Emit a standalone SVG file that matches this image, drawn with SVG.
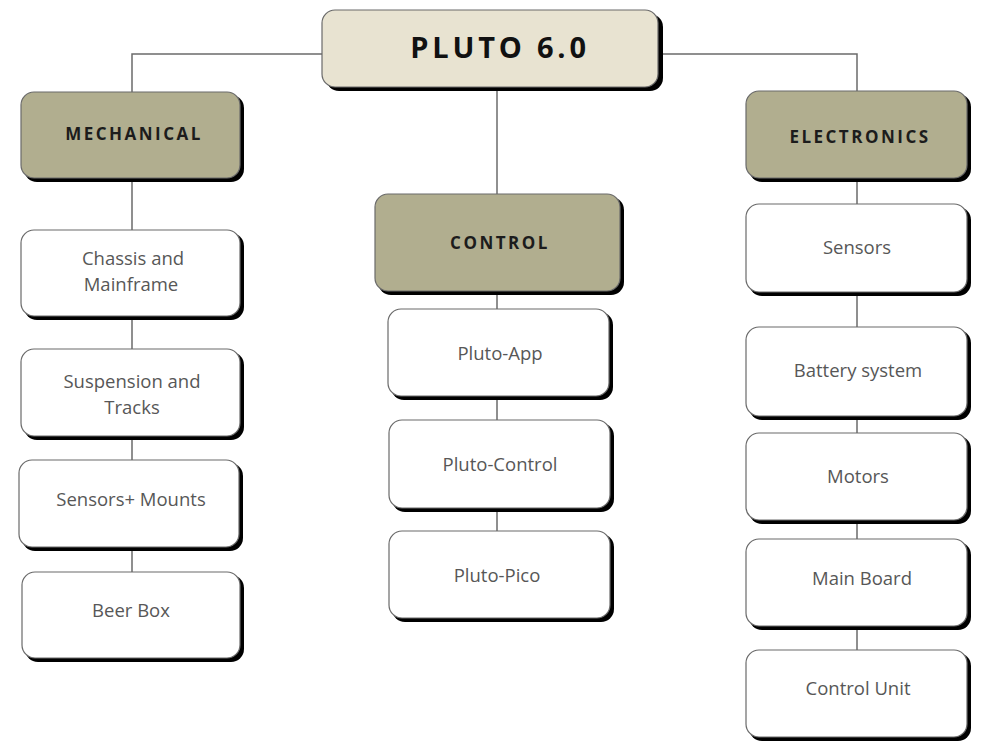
<svg xmlns="http://www.w3.org/2000/svg" width="1007" height="744" viewBox="0 0 1007 744">
<style>
.shadow{fill:#000}
.box{stroke:#6a6a6a;stroke-width:1.2}
.root{fill:#E8E3D1}
.cat{fill:#B1AE8F}
.leaf{fill:#FFFFFF}
.t{font-family:"Open Sans","Liberation Sans",sans-serif;font-size:18.5px;fill:#575757;text-anchor:middle}
.h{font-family:"Open Sans","Liberation Sans",sans-serif;font-size:17px;font-weight:bold;fill:#1c1c1c;text-anchor:middle;letter-spacing:2.5px}
.rt{font-family:"Open Sans","Liberation Sans",sans-serif;font-size:29px;font-weight:bold;fill:#111;text-anchor:middle;letter-spacing:3.8px}
.c{fill:none;stroke:#6b6b6b;stroke-width:1.5}
</style>
<rect width="1007" height="744" fill="#fff"/>
<g id="connectors">
<path class="c" d="M322 54 H132 V92"/>
<path class="c" d="M658 54 H857 V91"/>
<path class="c" d="M497 87 V194"/>
<path class="c" d="M132 178 V230 M132 316 V349 M132 436 V460 M132 547 V572"/>
<path class="c" d="M497 291 V309 M497 396 V420 M497 508 V531"/>
<path class="c" d="M857 178 V204 M857 292 V327 M857 416 V433 M857 520 V539 M857 626 V650"/>
</g>
<g id="root">
<rect class="shadow" x="326" y="14" width="337" height="77" rx="13"/>
<rect class="box root" x="322" y="10" width="336" height="77" rx="13"/>
<text class="rt" x="500" y="58">PLUTO 6.0</text>
</g>
<g id="mechanical">
<rect class="shadow" x="24" y="95" width="220" height="87" rx="13"/>
<rect class="box cat" x="21" y="92" width="219" height="86" rx="13"/>
<text class="h" x="134" y="140">MECHANICAL</text>
</g>
<g id="chassis">
<rect class="shadow" x="24" y="233" width="220" height="87" rx="13"/>
<rect class="box leaf" x="21" y="230" width="219" height="86" rx="13"/>
<text class="t" x="133" y="265">Chassis and</text>
<text class="t" x="131" y="291">Mainframe</text>
</g>
<g id="suspension">
<rect class="shadow" x="24" y="352" width="220" height="88" rx="13"/>
<rect class="box leaf" x="21" y="349" width="219" height="87" rx="13"/>
<text class="t" x="132" y="388">Suspension and</text>
<text class="t" x="132" y="414">Tracks</text>
</g>
<g id="sensors-mounts">
<rect class="shadow" x="22" y="463" width="221" height="88" rx="13"/>
<rect class="box leaf" x="19" y="460" width="220" height="87" rx="13"/>
<text class="t" x="131" y="506">Sensors+ Mounts</text>
</g>
<g id="beer-box">
<rect class="shadow" x="25" y="575" width="219" height="87" rx="13"/>
<rect class="box leaf" x="22" y="572" width="218" height="86" rx="13"/>
<text class="t" x="131" y="617">Beer Box</text>
</g>
<g id="control">
<rect class="shadow" x="378" y="197" width="246" height="98" rx="13"/>
<rect class="box cat" x="375" y="194" width="245" height="97" rx="13"/>
<text class="h" x="500" y="249">CONTROL</text>
</g>
<g id="pluto-app">
<rect class="shadow" x="391" y="312" width="222" height="88" rx="13"/>
<rect class="box leaf" x="388" y="309" width="221" height="87" rx="13"/>
<text class="t" x="500" y="360">Pluto-App</text>
</g>
<g id="pluto-control">
<rect class="shadow" x="392" y="423" width="222" height="89" rx="13"/>
<rect class="box leaf" x="389" y="420" width="221" height="88" rx="13"/>
<text class="t" x="500" y="471">Pluto-Control</text>
</g>
<g id="pluto-pico">
<rect class="shadow" x="392" y="534" width="222" height="88" rx="13"/>
<rect class="box leaf" x="389" y="531" width="221" height="87" rx="13"/>
<text class="t" x="497" y="582">Pluto-Pico</text>
</g>
<g id="electronics">
<rect class="shadow" x="749" y="94" width="222" height="88" rx="13"/>
<rect class="box cat" x="746" y="91" width="221" height="87" rx="13"/>
<text class="h" x="860" y="143">ELECTRONICS</text>
</g>
<g id="sensors">
<rect class="shadow" x="749" y="207" width="222" height="89" rx="13"/>
<rect class="box leaf" x="746" y="204" width="221" height="88" rx="13"/>
<text class="t" x="857" y="254">Sensors</text>
</g>
<g id="battery">
<rect class="shadow" x="749" y="330" width="222" height="90" rx="13"/>
<rect class="box leaf" x="746" y="327" width="221" height="89" rx="13"/>
<text class="t" x="858" y="377">Battery system</text>
</g>
<g id="motors">
<rect class="shadow" x="749" y="436" width="222" height="88" rx="13"/>
<rect class="box leaf" x="746" y="433" width="221" height="87" rx="13"/>
<text class="t" x="858" y="483">Motors</text>
</g>
<g id="main-board">
<rect class="shadow" x="749" y="542" width="222" height="88" rx="13"/>
<rect class="box leaf" x="746" y="539" width="221" height="87" rx="13"/>
<text class="t" x="862" y="585">Main Board</text>
</g>
<g id="control-unit">
<rect class="shadow" x="749" y="653" width="222" height="88" rx="13"/>
<rect class="box leaf" x="746" y="650" width="221" height="87" rx="13"/>
<text class="t" x="858" y="695">Control Unit</text>
</g>
</svg>
